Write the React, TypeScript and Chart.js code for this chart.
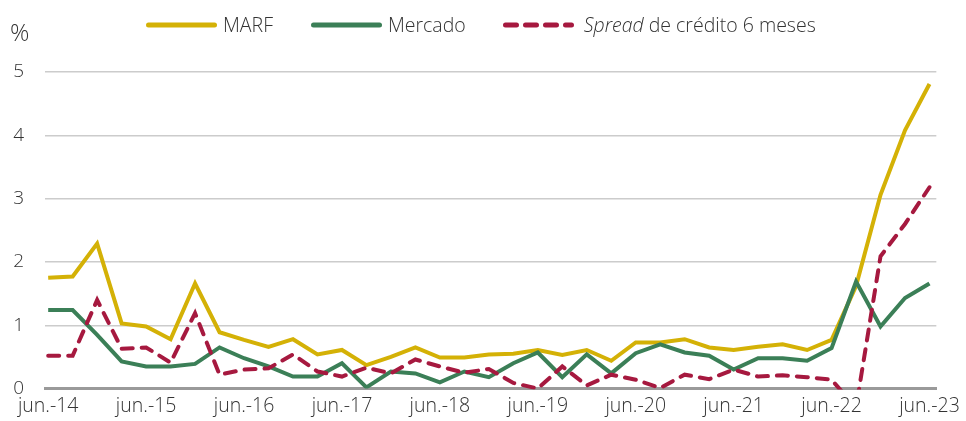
import React, { useEffect, useRef } from "react";
import { Chart, registerables } from "chart.js";

Chart.register(...registerables);

const CATEGORIES = [
  "jun.-14", "sep.-14", "dic.-14", "mar.-15",
  "jun.-15", "sep.-15", "dic.-15", "mar.-16",
  "jun.-16", "sep.-16", "dic.-16", "mar.-17",
  "jun.-17", "sep.-17", "dic.-17", "mar.-18",
  "jun.-18", "sep.-18", "dic.-18", "mar.-19",
  "jun.-19", "sep.-19", "dic.-19", "mar.-20",
  "jun.-20", "sep.-20", "dic.-20", "mar.-21",
  "jun.-21", "sep.-21", "dic.-21", "mar.-22",
  "jun.-22", "sep.-22", "dic.-22", "mar.-23",
  "jun.-23",
];

const TICK_INDEXES = [0, 4, 8, 12, 16, 20, 24, 28, 32, 36];
const Y_TICKS = [0, 1, 2, 3, 4, 5];

const MARF = [
  1.75, 1.77, 2.29, 1.03, 0.98, 0.78, 1.66, 0.89, 0.77, 0.66, 0.78, 0.54,
  0.61, 0.37, 0.5, 0.65, 0.49, 0.49, 0.54, 0.55, 0.61, 0.53, 0.61, 0.44,
  0.73, 0.73, 0.78, 0.65, 0.61, 0.66, 0.7, 0.61, 0.77, 1.62, 3.06, 4.08, 4.81,
];

const MERCADO = [
  1.24, 1.24, 0.85, 0.43, 0.35, 0.35, 0.39, 0.65, 0.48, 0.35, 0.19, 0.19,
  0.4, 0.02, 0.27, 0.24, 0.1, 0.27, 0.18, 0.4, 0.57, 0.18, 0.54, 0.24,
  0.56, 0.7, 0.57, 0.52, 0.3, 0.48, 0.48, 0.44, 0.64, 1.69, 0.98, 1.43, 1.66,
];

const SPREAD = [
  0.52, 0.52, 1.4, 0.63, 0.65, 0.41, 1.19, 0.22, 0.3, 0.32, 0.54, 0.27,
  0.19, 0.33, 0.24, 0.46, 0.35, 0.25, 0.31, 0.09, 0.0, 0.35, 0.05, 0.22,
  0.14, 0.01, 0.22, 0.15, 0.3, 0.19, 0.21, 0.18, 0.14, -0.3, 2.09, 2.6, 3.18,
];

const COLOR_MARF = "#D4B106";
const COLOR_MERCADO = "#3B7F57";
const COLOR_SPREAD = "#A6193F";
const FONT_FAMILY = "'Open Sans', 'Noto Sans', sans-serif";
const TEXT_COLOR = "#333333";

const toPoints = (arr: number[]) => arr.map((y, i) => ({ x: i, y }));

function LegendSample({ color, dashed }: { color: string; dashed?: boolean }) {
  return (
    <svg width={71} height={8} style={{ display: "block" }}>
      <line
        x1={2.5}
        y1={4}
        x2={dashed ? 68.5 : 68.5}
        y2={4}
        stroke={color}
        strokeWidth={5}
        strokeLinecap="round"
        strokeDasharray={dashed ? "11 9" : undefined}
      />
    </svg>
  );
}

export default function App() {
  const canvasRef = useRef<HTMLCanvasElement | null>(null);

  useEffect(() => {
    document.body.style.margin = "0";
    const canvas = canvasRef.current;
    if (!canvas) return;
    const chart = new Chart(canvas, {
      type: "line",
      data: {
        datasets: [
          {
            label: "MARF",
            data: toPoints(MARF),
            borderColor: COLOR_MARF,
            backgroundColor: COLOR_MARF,
            borderWidth: 4,
            pointRadius: 0,
            tension: 0,
            order: 3,
          },
          {
            label: "Mercado",
            data: toPoints(MERCADO),
            borderColor: COLOR_MERCADO,
            backgroundColor: COLOR_MERCADO,
            borderWidth: 4,
            pointRadius: 0,
            tension: 0,
            order: 2,
          },
          {
            label: "Spread de crédito 6 meses",
            data: toPoints(SPREAD),
            borderColor: COLOR_SPREAD,
            backgroundColor: COLOR_SPREAD,
            borderWidth: 4,
            borderDash: [11, 9],
            borderCapStyle: "round",
            pointRadius: 0,
            tension: 0,
            order: 1,
            clip: { left: 5, right: 5, top: 5, bottom: 1 },
          },
        ],
      },
      options: {
        responsive: false,
        animation: false,
        devicePixelRatio: 1,
        layout: { padding: { top: 72, right: 27, left: 0, bottom: 0 } },
        plugins: {
          legend: { display: false },
          tooltip: { enabled: false },
        },
        scales: {
          x: {
            type: "linear",
            min: -0.13,
            max: 36.28,
            afterBuildTicks: (scale: any) => {
              scale.ticks = TICK_INDEXES.map((v) => ({ value: v }));
            },
            afterFit: (scale: any) => {
              scale.height = 32;
            },
            grid: { display: false, drawTicks: false },
            border: { display: true, color: "#9a9a9a", width: 3 },
            ticks: {
              autoSkip: false,
              maxRotation: 0,
              padding: 6,
              color: TEXT_COLOR,
              font: { family: FONT_FAMILY, size: 19.5, weight: "300" as any },
              callback: (v: any) => CATEGORIES[Math.round(Number(v))] ?? "",
            },
          },
          y: {
            min: 0,
            max: 5,
            afterBuildTicks: (scale: any) => {
              scale.ticks = Y_TICKS.map((v) => ({ value: v }));
            },
            afterFit: (scale: any) => {
              scale.width = 45;
            },
            grid: { color: "#cccccc", lineWidth: 1.5, drawTicks: false },
            border: { display: false },
            ticks: {
              padding: 21,
              color: TEXT_COLOR,
              font: { family: FONT_FAMILY, size: 19, weight: "300" as any },
              callback: (v: any) => String(v),
            },
          },
        },
      } as any,
    });
    return () => chart.destroy();
  }, []);

  const legendText: React.CSSProperties = {
    fontFamily: FONT_FAMILY,
    fontSize: 19.5,
    fontWeight: 300,
    color: TEXT_COLOR,
    marginLeft: 6,
    whiteSpace: "nowrap",
    lineHeight: "24px",
  };

  return (
    <div style={{ position: "relative", width: 966, height: 421 }}>
      <canvas ref={canvasRef} width={966} height={421} style={{ display: "block" }} />
      <div
        style={{
          position: "absolute",
          left: 10,
          top: 17,
          fontFamily: FONT_FAMILY,
          fontSize: 24,
          fontWeight: 300,
          color: TEXT_COLOR,
          lineHeight: "30px",
        }}
      >
        %
      </div>
      <div
        style={{
          position: "absolute",
          left: 146,
          top: 13,
          display: "flex",
          alignItems: "center",
        }}
      >
        <div style={{ display: "flex", alignItems: "center" }}>
          <LegendSample color={COLOR_MARF} />
          <span style={legendText}>MARF</span>
        </div>
        <div style={{ display: "flex", alignItems: "center", marginLeft: 38 }}>
          <LegendSample color={COLOR_MERCADO} />
          <span style={legendText}>Mercado</span>
        </div>
        <div style={{ display: "flex", alignItems: "center", marginLeft: 37 }}>
          <LegendSample color={COLOR_SPREAD} dashed />
          <span style={{ ...legendText, marginLeft: 10 }}>
            <i>Spread</i> de crédito 6 meses
          </span>
        </div>
      </div>
    </div>
  );
}
